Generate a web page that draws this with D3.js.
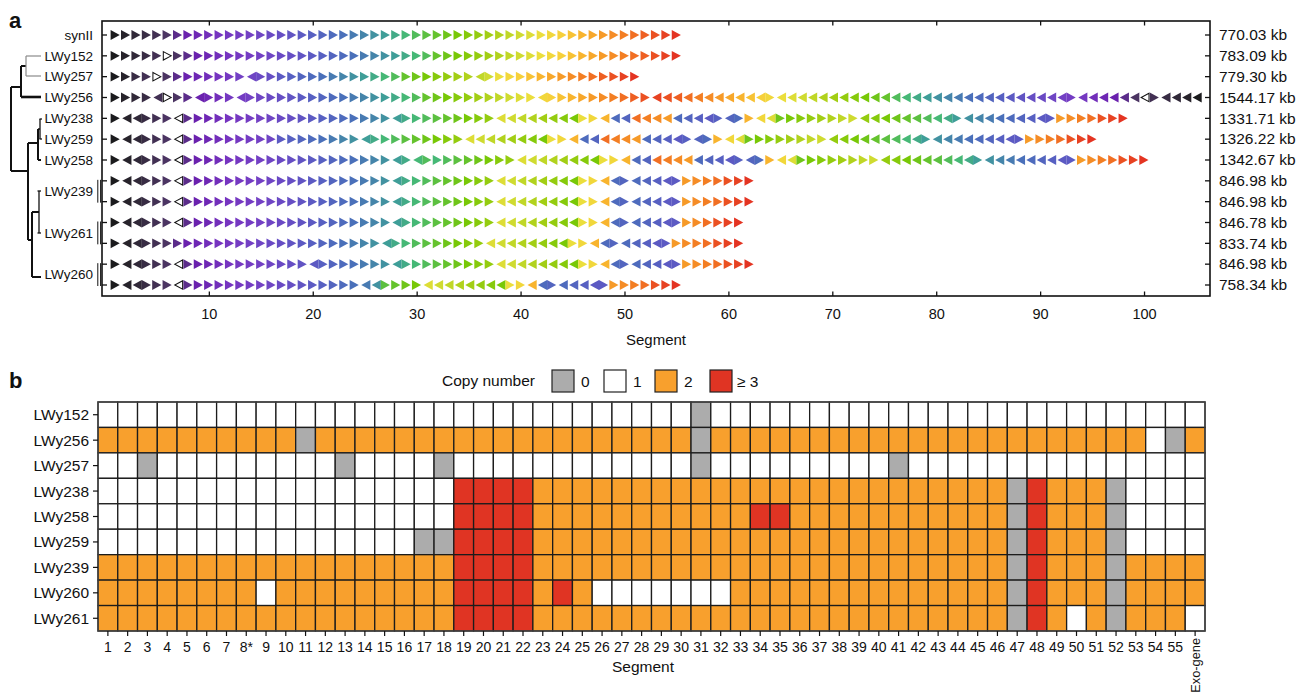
<!DOCTYPE html>
<html><head><meta charset="utf-8">
<script src="https://cdn.jsdelivr.net/npm/d3@7/dist/d3.min.js"></script>
<style>
body{margin:0;background:#fff}
text{font-family:"Liberation Sans",Arial,Helvetica,sans-serif;fill:#111}
</style>
</head><body>
<svg id="c" width="1309" height="695"></svg>
<script>
// ---------------- DATA ----------------
// Panel a rows
const rowKeys = ["synII","LWy152","LWy257","LWy256","LWy238","LWy259","LWy258","LWy239a","LWy239b","LWy261a","LWy261b","LWy260a","LWy260b"];
const rowSizes = ["770.03 kb","783.09 kb","779.30 kb","1544.17 kb","1331.71 kb","1326.22 kb","1342.67 kb","846.98 kb","846.98 kb","846.78 kb","833.74 kb","846.98 kb","758.34 kb"];
const leafLabels = ["synII","LWy152","LWy257","LWy256","LWy238","LWy259","LWy258","LWy239","LWy261","LWy260"];
const leafRows = [[0],[1],[2],[3],[4],[5],[6],[7,8],[9,10],[11,12]];
const xTicks = [10,20,30,40,50,60,70,80,90,100];

// segment order/orientation per chromosome (">" forward, "<" inverted, E = exo-gene)
const seq_synII = "1> 2> 3> 4> 5> 6> 7> 8> 9> 10> 11> 12> 13> 14> 15> 16> 17> 18> 19> 20> 21> 22> 23> 24> 25> 26> 27> 28> 29> 30> 31> 32> 33> 34> 35> 36> 37> 38> 39> 40> 41> 42> 43> 44> 45> 46> 47> 48> 49> 50> 51> 52> 53> 54> 55>";
const seq_LWy152 = "1> 2> 3> 4> 5> E> 6> 7> 8> 9> 10> 11> 12> 13> 14> 15> 16> 17> 18> 19> 20> 21> 22> 23> 24> 25> 26> 27> 28> 29> 30> 32> 33> 34> 35> 36> 37> 38> 39> 40> 41> 42> 43> 44> 45> 46> 47> 48> 49> 50> 51> 52> 53> 54> 55>";
const seq_LWy257 = "1> 2> 4> 5> E> 6> 7> 8> 9> 10> 11> 12> 14> 15< 16> 17> 19> 20> 21> 22> 23> 24> 25> 26> 27> 28> 29> 30> 32> 33> 34> 35> 36> 37> 38> 39< 40> 42> 43> 44> 45> 46> 47> 48> 49> 50> 51> 52> 53> 54> 55>";
const seq_LWy256 = "1> 2> 3> 4> 5< E> 6> 7> 8< 9> 10> 12> 13< 14> 15> 16> 17> 18> 19> 20> 21> 22> 23> 24> 25> 26> 27> 28> 29> 30> 32> 33> 34> 35> 36> 37> 38> 39> 40> 41> 42> 43< 44> 45> 46> 47> 48> 49> 50> 51> 52> 53> 54< 53< 52< 51< 50< 49< 48< 47< 46< 45< 44< 43> 42< 41< 40< 39< 38< 37< 36< 35< 34< 33< 32< 30< 29< 28< 27< 26< 25< 24< 23< 22< 21< 20< 19< 18< 17< 16< 15< 14< 13> 12< 10< 9< 8< 7< 6< E< 5> 4< 3< 2< 1<";
const seq_LWy238 = "1> 2< 3< 4> 5> 6> E< 7> 8> 9> 10> 11> 12> 13> 14> 15> 16> 17> 18> 19> 20> 21> 22> 23> 24> 25> 26> 27< 28> 29> 30> 31> 32> 33> 34> 35> 36> 41< 40< 39< 38< 37< 36< 35< 34< 42> 43> 46< 22< 21< 51< 50< 49< 48< 22< 21< 20< 19< 20> 21< 22> 46> 43< 41< 33> 34> 35> 36> 37> 38> 39> 40> 36< 35< 34< 33< 32< 31< 30< 29< 28< 27> 26< 25< 24< 23< 22< 21< 20< 19< 19> 48> 49> 50> 51> 53> 54> 55>";
const seq_LWy259 = "1> 2< 3< 4> 5> 6> E< 7> 8> 9> 10> 11> 12> 13> 14> 15> 19> 20> 21> 22> 23> 24> 25> 26> 27< 28> 29> 30> 31> 32> 33> 34> 35> 36> 41< 40< 39< 38< 37< 36< 35< 34< 42> 43> 46< 22< 21< 51< 50< 49< 48< 22< 21< 20< 19< 20> 21< 22> 46> 43< 41< 33> 34> 35> 36> 37> 38> 39> 40> 36< 35< 34< 33< 32< 31< 30< 29< 28< 27> 26< 25< 24< 23< 22< 21< 20< 19< 19> 48> 49> 50> 51> 53> 54> 55>";
const seq_LWy258 = "1> 2< 3< 4> 5> 6> E< 7> 8> 9> 10> 11> 12> 13> 14> 15> 16> 17> 18> 19> 20> 21> 22> 23> 24> 25> 26> 27< 28> 29< 30> 29> 30> 31> 32> 33> 34> 35> 36> 41< 40< 39< 38< 37< 36< 35< 34< 42> 43> 46< 22< 21< 51< 50< 49< 48< 22< 21< 20< 19< 20> 21< 22> 46> 43< 41< 33> 34> 35> 36> 37> 38> 39> 40> 36< 35< 34< 33< 32< 31< 30< 29< 28< 27> 26< 25< 24< 23< 22< 21< 20< 19< 19> 48> 49> 50> 51> 53> 54> 55>";
const seq_LWy239a = "1> 2< 3< 4> 5> 6> E< 7> 8> 9> 10> 11> 12> 13> 14> 15> 16> 17> 18> 19> 20> 21> 22> 23> 24> 25> 26> 27< 28> 29> 30> 31> 32> 33> 34> 35> 36> 41< 40< 39< 38< 37< 36< 35< 34< 42> 43> 46< 22< 21> 22< 21< 20< 19< 19> 48> 49> 50> 51> 53> 54> 55>";
const seq_LWy239b = "1> 2< 3< 4> 5> 6> E< 7> 8> 9> 10> 11> 12> 13> 14> 15> 16> 17> 18> 19> 20> 21> 22> 23> 24> 25> 26> 27< 28> 29> 30> 31> 32> 33> 34> 35> 36> 41< 40< 39< 38< 37< 36< 35< 34< 42> 43> 46< 22< 21> 22< 21< 20< 19< 19> 48> 49> 50> 51> 53> 54> 55>";
const seq_LWy261a = "1> 2< 3< 4> 5> 6> E< 7> 8> 9> 10> 11> 12> 13> 14> 15> 16> 17> 18> 19> 20> 21> 22> 23> 24> 25> 26> 27< 28> 29> 30> 31> 32> 33> 34> 35> 36> 41< 40< 39< 38< 37< 36< 35< 34< 42> 43> 46< 22< 21> 22< 21< 20< 19< 19> 48> 49> 51> 53> 54> 55>";
const seq_LWy261b = "1> 2< 3< 4> 5> 6> 7> 8> 9> 10> 11> 12> 13> 14> 15> 16> 17> 18> 19> 20> 21> 22> 23> 24> 25> 26> 27< 28> 29> 30> 31> 32> 33> 34> 35> 36> 41< 40< 39< 38< 37< 36< 35< 34< 42> 43> 46< 22< 21> 22< 21< 20< 19< 19> 48> 49> 50> 51> 53> 54> 55>";
const seq_LWy260a = "1> 2< 3< 4> 5> 6> E< 7> 8> 9> 10> 11> 12> 13> 14> 15> 16> 17> 18> 19< 20> 21> 22> 23> 24> 25> 26> 27< 28> 29> 30> 31> 32> 33> 34> 35> 36> 41< 40< 39< 38< 37< 36< 35< 34< 42> 43> 46< 22< 21> 22< 21< 20< 19< 19> 48> 49> 50> 51> 53> 54> 55>";
const seq_LWy260b = "1> 2< 3< 4> 5> 6> E< 7> 8> 9> 10> 11> 12> 13> 14> 15> 16> 17> 18> 19> 20> 21> 22> 23> 24< 26< 31> 32> 33> 34> 41< 40< 39< 38< 37< 36< 35< 34< 42> 43> 46< 22< 21> 22< 21< 20< 19< 19> 48> 49> 50> 51> 53> 54> 55>";

// segment colour ramp (segment number -> colour)
const rampSeg = [1, 2, 4, 6, 7, 8, 11, 14, 17, 20, 23, 25, 27, 29, 31, 34, 37, 40, 42, 44, 46, 48, 50, 52, 55];
const rampCol = ["#1b1b1d","#27232b","#382c44","#4b3462","#5b2c8a","#6a21ae","#7634c0","#7340c4","#664ec4","#5760c2","#4a70ba","#4585aa","#3f9e98","#46b876","#5cc040","#78c806","#a2ce14","#cfdb30","#ebde3c","#f6d03a","#f8b42e","#f69a28","#f37e23","#ee5f22","#e43422"];

// Panel b (copy number)
const hmStrains = ["LWy152","LWy256","LWy257","LWy238","LWy258","LWy259","LWy239","LWy260","LWy261"];
const hmSegments = ["1","2","3","4","5","6","7","8*","9","10","11","12","13","14","15","16","17","18","19","20","21","22","23","24","25","26","27","28","29","30","31","32","33","34","35","36","37","38","39","40","41","42","43","44","45","46","47","48","49","50","51","52","53","54","55","Exo-gene"];
const cn_LWy152 = [1,1,1,1,1,1,1,1,1,1, 1,1,1,1,1,1,1,1,1,1, 1,1,1,1,1,1,1,1,1,1, 0,1,1,1,1,1,1,1,1,1, 1,1,1,1,1,1,1,1,1,1, 1,1,1,1,1, 1];
const cn_LWy256 = [2,2,2,2,2,2,2,2,2,2, 0,2,2,2,2,2,2,2,2,2, 2,2,2,2,2,2,2,2,2,2, 0,2,2,2,2,2,2,2,2,2, 2,2,2,2,2,2,2,2,2,2, 2,2,2,1,0, 2];
const cn_LWy257 = [1,1,0,1,1,1,1,1,1,1, 1,1,0,1,1,1,1,0,1,1, 1,1,1,1,1,1,1,1,1,1, 0,1,1,1,1,1,1,1,1,1, 0,1,1,1,1,1,1,1,1,1, 1,1,1,1,1, 1];
const cn_LWy238 = [1,1,1,1,1,1,1,1,1,1, 1,1,1,1,1,1,1,1,3,3, 3,3,2,2,2,2,2,2,2,2, 2,2,2,2,2,2,2,2,2,2, 2,2,2,2,2,2,0,3,2,2, 2,0,1,1,1, 1];
const cn_LWy258 = [1,1,1,1,1,1,1,1,1,1, 1,1,1,1,1,1,1,1,3,3, 3,3,2,2,2,2,2,2,2,2, 2,2,2,3,3,2,2,2,2,2, 2,2,2,2,2,2,0,3,2,2, 2,0,1,1,1, 1];
const cn_LWy259 = [1,1,1,1,1,1,1,1,1,1, 1,1,1,1,1,1,0,0,3,3, 3,3,2,2,2,2,2,2,2,2, 2,2,2,2,2,2,2,2,2,2, 2,2,2,2,2,2,0,3,2,2, 2,0,1,1,1, 1];
const cn_LWy239 = [2,2,2,2,2,2,2,2,2,2, 2,2,2,2,2,2,2,2,3,3, 3,3,2,2,2,2,2,2,2,2, 2,2,2,2,2,2,2,2,2,2, 2,2,2,2,2,2,0,3,2,2, 2,0,2,2,2, 2];
const cn_LWy260 = [2,2,2,2,2,2,2,2,1,2, 2,2,2,2,2,2,2,2,3,3, 3,3,2,3,2,1,1,1,1,1, 1,1,2,2,2,2,2,2,2,2, 2,2,2,2,2,2,0,3,2,2, 2,0,2,2,2, 2];
const cn_LWy261 = [2,2,2,2,2,2,2,2,2,2, 2,2,2,2,2,2,2,2,3,3, 3,3,2,2,2,2,2,2,2,2, 2,2,2,2,2,2,2,2,2,2, 2,2,2,2,2,2,0,3,2,1, 2,0,2,2,2, 1];
const legendValues = [0,1,2,3];
const legendLabels = ["0","1","2","\u2265 3"];
const cnColors = ["#acacac","#ffffff","#f8a02d","#e03423"];

// ---------------- DRAW ----------------
const svg = d3.select("#c");
const seqs = [seq_synII,seq_LWy152,seq_LWy257,seq_LWy256,seq_LWy238,seq_LWy259,seq_LWy258,seq_LWy239a,seq_LWy239b,seq_LWy261a,seq_LWy261b,seq_LWy260a,seq_LWy260b].map(s=>s.split(" "));
const segColor = d3.scaleLinear().domain(rampSeg).range(rampCol).interpolate(d3.interpolateRgb).clamp(true);

// ---- panel a ----
const ax = {l:102, r:1210, t:21, b:296};
const x = d3.scaleLinear().domain([-0.33, 106.3]).range([ax.l, ax.r]);
const y = d3.scalePoint().domain(d3.range(rowKeys.length)).range([35, 285]);

svg.append("text").attr("x",9).attr("y",28).attr("font-size",22).attr("font-weight","bold").text("a");

const ga = svg.append("g");
ga.append("rect").attr("x",ax.l).attr("y",ax.t).attr("width",ax.r-ax.l).attr("height",ax.b-ax.t)
  .attr("fill","none").attr("stroke","#111").attr("stroke-width",1.6);
xTicks.forEach(v=>{
  ga.append("line").attr("x1",x(v)).attr("x2",x(v)).attr("y1",ax.t).attr("y2",ax.t+4.5).attr("stroke","#111").attr("stroke-width",1.3);
  ga.append("line").attr("x1",x(v)).attr("x2",x(v)).attr("y1",ax.b).attr("y2",ax.b-4.5).attr("stroke","#111").attr("stroke-width",1.3);
  ga.append("text").attr("x",x(v)).attr("y",319).attr("text-anchor","middle").attr("font-size",14.5).text(v);
});
ga.append("text").attr("x",656).attr("y",345).attr("text-anchor","middle").attr("font-size",15).text("Segment");
rowKeys.forEach((k,i)=>{
  ga.append("line").attr("x1",ax.l).attr("x2",ax.l+5).attr("y1",y(i)).attr("y2",y(i)).attr("stroke","#111").attr("stroke-width",1.3);
  ga.append("line").attr("x1",ax.r).attr("x2",ax.r-5).attr("y1",y(i)).attr("y2",y(i)).attr("stroke","#111").attr("stroke-width",1.3);
  ga.append("text").attr("x",1219).attr("y",y(i)+5.2).attr("font-size",15.5).text(rowSizes[i]);
});
leafLabels.forEach((n,i)=>{
  const yy = d3.mean(leafRows[i], r=>y(r));
  ga.append("text").attr("x",93).attr("y",yy+4.8).attr("text-anchor","end").attr("font-size",13.5).text(n);
  if(leafRows[i].length>1){
    const y0=y(leafRows[i][0])-1, y1=y(leafRows[i][1])+1;
    [97.8,100.6].forEach(xx=>ga.append("line").attr("x1",xx).attr("x2",xx).attr("y1",y0).attr("y2",y1).attr("stroke","#111").attr("stroke-width",1));
  }
});
const treeBlack = [
  "M21,66H26","M21,66V97","M11,87H21","M11,87V171","M11,171H28","M28,143V240","M28,143H38",
  "M38,129V160","M38,160H41","M28,240H32","M32,212V277","M32,212H39","M32,277H41"];
treeBlack.forEach(d=>ga.append("path").attr("d",d).attr("stroke","#111").attr("stroke-width",2).attr("fill","none"));
ga.append("path").attr("d","M21,97H41").attr("stroke","#111").attr("stroke-width",2.6);
["M26,56H41","M26,76H41","M26,56V76"].forEach(d=>ga.append("path").attr("d",d).attr("stroke","#8a8a8a").attr("stroke-width",1.2).attr("fill","none"));
["M38,129H40","M40,119V139","M39.5,119H42","M39.5,139H42","M39,191V233","M37.5,191H41","M37.5,233H41"].forEach(d=>ga.append("path").attr("d",d).attr("stroke","#111").attr("stroke-width",1.3).attr("fill","none"));

const hh = 4.9;
seqs.forEach((seq,ri)=>{
  const yy = y(ri);
  const g = ga.append("g");
  g.selectAll("path").data(seq.map((t,i)=>({t, i:i+1, seg:t.slice(0,-1), dir:t.slice(-1)})))
    .join("path")
    .attr("d",d=>{
      if(d.dir===">"){ const b=x(d.i-0.5), p=x(d.i+0.38); return `M${b},${yy-hh}L${p},${yy}L${b},${yy+hh}Z`; }
      const b=x(d.i+0.5), p=x(d.i-0.38); return `M${b},${yy-hh}L${p},${yy}L${b},${yy+hh}Z`;
    })
    .attr("fill",d=>d.seg==="E"?"#fff":segColor(+d.seg))
    .attr("stroke",d=>d.seg==="E"?"#111":"none")
    .attr("stroke-width",1.2)
    .attr("transform",d=>{
      if(d.seg!=="E") return null;
      const cx=x(d.i); return `translate(${cx},${yy}) scale(0.86) translate(${-cx},${-yy})`;
    });
});

// ---- panel b ----
svg.append("text").attr("x",9).attr("y",388).attr("font-size",22).attr("font-weight","bold").text("b");
const gb = svg.append("g");
const cnRows = [cn_LWy152,cn_LWy256,cn_LWy257,cn_LWy238,cn_LWy258,cn_LWy259,cn_LWy239,cn_LWy260,cn_LWy261];
const hx = d3.scaleBand().domain(hmSegments).range([98,1205]);
const hy = d3.scaleBand().domain(hmStrains).range([402,631]);
const cnColor = d3.scaleOrdinal().domain(legendValues).range(cnColors);

const cells=[];
hmStrains.forEach((s,ri)=>hmSegments.forEach((c,ci)=>cells.push({s,c,v:cnRows[ri][ci]})));
gb.selectAll("rect.cell").data(cells).join("rect").attr("class","cell")
  .attr("x",d=>hx(d.c)).attr("y",d=>hy(d.s)).attr("width",hx.bandwidth()).attr("height",hy.bandwidth())
  .attr("fill",d=>cnColor(d.v)).attr("stroke","#1c1c1c").attr("stroke-width",1.3);
gb.append("rect").attr("x",98).attr("y",402).attr("width",1107).attr("height",229).attr("fill","none").attr("stroke","#444").attr("stroke-width",1.4);

hmStrains.forEach(s=>{
  const yy=hy(s)+hy.bandwidth()/2;
  gb.append("line").attr("x1",93).attr("x2",98).attr("y1",yy).attr("y2",yy).attr("stroke","#111").attr("stroke-width",1.2);
  gb.append("text").attr("x",89).attr("y",yy+5.5).attr("text-anchor","end").attr("font-size",15.5).text(s);
});
hmSegments.forEach(c=>{
  const xx=hx(c)+hx.bandwidth()/2;
  gb.append("line").attr("x1",xx).attr("x2",xx).attr("y1",631).attr("y2",636).attr("stroke","#111").attr("stroke-width",1.2);
  if(c==="Exo-gene"){
    gb.append("text").attr("transform",`translate(${xx+4.5},638) rotate(-90)`).attr("text-anchor","end").attr("font-size",12.8).text(c);
  } else {
    gb.append("text").attr("x",xx).attr("y",652).attr("text-anchor","middle").attr("font-size",14).text(c);
  }
});
gb.append("text").attr("x",643).attr("y",672).attr("text-anchor","middle").attr("font-size",15.5).text("Segment");

gb.append("text").attr("x",535).attr("y",386).attr("text-anchor","end").attr("font-size",15.5).text("Copy number");
const legX = [552,604,655,710];
legendValues.forEach((v,i)=>{
  gb.append("rect").attr("x",legX[i]).attr("y",370).attr("width",22).attr("height",22).attr("fill",cnColor(v)).attr("stroke","#222").attr("stroke-width",1.2);
  gb.append("text").attr("x",legX[i]+(i===3?27:29)).attr("y",387).attr("font-size",15.5).text(legendLabels[i]);
});
</script>
</body></html>
